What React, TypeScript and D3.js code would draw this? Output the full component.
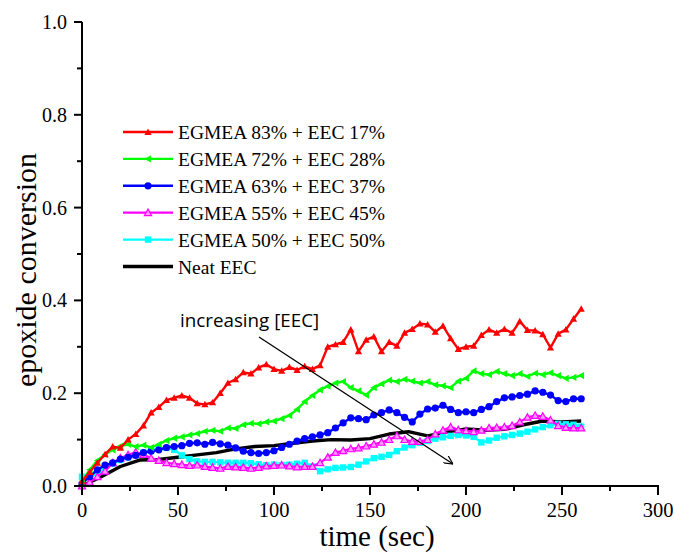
import React from "react";
import * as d3 from "d3";

const STEP = 4;
const red83 = [0.01,0.03,0.05,0.068,0.085,0.082,0.1,0.112,0.13,0.158,0.17,0.185,0.19,0.195,0.19,0.178,0.176,0.18,0.2,0.222,0.23,0.245,0.242,0.255,0.262,0.252,0.248,0.256,0.25,0.258,0.252,0.26,0.3,0.305,0.31,0.337,0.29,0.315,0.322,0.29,0.31,0.302,0.33,0.338,0.35,0.348,0.332,0.345,0.318,0.295,0.3,0.302,0.325,0.337,0.33,0.338,0.33,0.355,0.336,0.335,0.327,0.298,0.328,0.337,0.36,0.382];
const green72 = [0.01,0.035,0.055,0.068,0.078,0.086,0.09,0.085,0.088,0.083,0.09,0.098,0.103,0.106,0.11,0.113,0.118,0.12,0.118,0.125,0.124,0.132,0.135,0.134,0.138,0.14,0.145,0.152,0.165,0.182,0.195,0.207,0.215,0.222,0.225,0.212,0.205,0.196,0.212,0.22,0.228,0.225,0.23,0.226,0.222,0.225,0.218,0.216,0.212,0.226,0.232,0.248,0.242,0.24,0.247,0.242,0.238,0.242,0.236,0.243,0.24,0.244,0.238,0.232,0.234,0.238];
const blue63 = [0.005,0.02,0.035,0.045,0.05,0.058,0.062,0.066,0.072,0.075,0.078,0.083,0.085,0.087,0.092,0.093,0.09,0.094,0.091,0.088,0.082,0.075,0.072,0.07,0.072,0.076,0.083,0.09,0.097,0.102,0.106,0.11,0.115,0.125,0.136,0.147,0.145,0.143,0.153,0.158,0.164,0.158,0.148,0.138,0.155,0.166,0.168,0.174,0.165,0.158,0.16,0.158,0.165,0.171,0.182,0.19,0.192,0.195,0.198,0.205,0.202,0.196,0.184,0.182,0.188,0.188];
const magenta55 = [0.0,0.008,0.02,0.032,0.05,0.06,0.067,0.073,0.068,0.06,0.055,0.05,0.048,0.046,0.044,0.045,0.042,0.04,0.038,0.042,0.041,0.04,0.038,0.04,0.043,0.044,0.045,0.043,0.041,0.042,0.042,0.05,0.062,0.072,0.076,0.08,0.082,0.086,0.09,0.094,0.1,0.108,0.1,0.096,0.096,0.1,0.112,0.12,0.127,0.121,0.119,0.117,0.12,0.125,0.126,0.127,0.13,0.138,0.148,0.152,0.15,0.142,0.13,0.126,0.125,0.125];
const cyan50 = [0.02,0.018,0.028,0.038,0.048,0.056,0.062,0.067,0.072,0.077,0.08,0.082,0.078,0.066,0.058,0.053,0.052,0.052,0.051,0.05,0.05,0.05,0.049,0.047,0.045,0.046,0.045,0.046,0.048,0.05,0.042,0.032,0.036,0.039,0.04,0.041,0.046,0.053,0.06,0.063,0.067,0.075,0.083,0.088,0.093,0.097,0.102,0.105,0.108,0.11,0.109,0.106,0.094,0.098,0.104,0.107,0.11,0.113,0.117,0.122,0.127,0.131,0.134,0.133,0.132,0.128];
const NEAT_STEP = 10;
const neatEEC = [0.0,0.02,0.042,0.056,0.057,0.062,0.067,0.072,0.08,0.085,0.087,0.092,0.097,0.1,0.099,0.102,0.112,0.117,0.108,0.116,0.123,0.12,0.122,0.132,0.14,0.138,0.14];

const seriesNames = ["EGMEA 83% + EEC 17%","EGMEA 72% + EEC 28%","EGMEA 63% + EEC 37%","EGMEA 55% + EEC 45%","EGMEA 50% + EEC 50%","Neat EEC"];
const xTicks = [0,50,100,150,200,250,300];
const yTicks = [0.0,0.2,0.4,0.6,0.8,1.0];
const annotation = "increasing [EEC]";

const x = d3.scaleLinear().domain([0,300]).range([82,658]);
const y = d3.scaleLinear().domain([0,1]).range([486,22]);

type S = { name: string; vals: number[]; step: number; color: string; marker: string; width: number; fill?: string };
const series: S[] = [
  { name: seriesNames[0], vals: red83, step: STEP, color: "#ff0000", marker: "triUp", width: 2.4 },
  { name: seriesNames[1], vals: green72, step: STEP, color: "#00ff00", marker: "triLeft", width: 2.4 },
  { name: seriesNames[2], vals: blue63, step: STEP, color: "#0000ff", marker: "circle", width: 2.4 },
  { name: seriesNames[3], vals: magenta55, step: STEP, color: "#ff00ff", marker: "triOpen", width: 2.2, fill: "#ff99ff" },
  { name: seriesNames[4], vals: cyan50, step: STEP, color: "#00ffff", marker: "square", width: 2.4 },
  { name: seriesNames[5], vals: neatEEC, step: NEAT_STEP, color: "#000000", marker: "none", width: 3.4 },
];

function Marker({ kind, cx, cy, color, fill }: { kind: string; cx: number; cy: number; color: string; fill?: string }) {
  const s = 3.6;
  if (kind === "triUp") return <path d={`M${cx},${cy - s}L${cx + s},${cy + s * 0.8}L${cx - s},${cy + s * 0.8}Z`} fill={color} />;
  if (kind === "triLeft") return <path d={`M${cx - s},${cy}L${cx + s * 0.8},${cy - s}L${cx + s * 0.8},${cy + s}Z`} fill={color} />;
  if (kind === "circle") return <circle cx={cx} cy={cy} r={3.6} fill={color} />;
  if (kind === "triOpen") return <path d={`M${cx},${cy - s}L${cx + s},${cy + s * 0.8}L${cx - s},${cy + s * 0.8}Z`} fill={fill} stroke={color} strokeWidth={1.2} />;
  if (kind === "square") return <rect x={cx - 3.2} y={cy - 3.2} width={6.4} height={6.4} fill={color} />;
  return null;
}

const SERIF = '"Liberation Serif", "Times New Roman", Times, serif';
const SANS = '"Open Sans", Lato, sans-serif';

export default function App() {
  const line = d3.line<[number, number]>().x(d => x(d[0])).y(d => y(d[1]));
  const minorX = d3.range(0, 301, 25).filter(v => v % 50 !== 0);
  const minorY = d3.range(0.1, 1.0, 0.2);
  return (
    <svg width={674} height={552} style={{ position: "absolute", left: 0, top: 0, background: "#fff" }} fontFamily={SERIF}>
      <defs>
        <marker id="arrow" viewBox="0 0 10 10" refX="10" refY="5" markerWidth="9" markerHeight="9" orient="auto" markerUnits="userSpaceOnUse">
          <path d="M0,0L10,5L0,10" fill="none" stroke="#000" strokeWidth={1.3} />
        </marker>
      </defs>
      {series.slice().reverse().map((s, si) => {
        const pts: [number, number][] = s.vals.map((v, i) => [i * s.step, v]);
        return (
          <g key={si}>
            <path d={line(pts) || ""} fill="none" stroke={s.color} strokeWidth={s.width} strokeLinejoin="round" />
            {s.marker !== "none" && pts.map((p, i) => (
              <Marker key={i} kind={s.marker} cx={x(p[0])} cy={y(p[1])} color={s.color} fill={s.fill} />
            ))}
          </g>
        );
      })}
      <line x1={82} x2={82} y1={y(1)} y2={y(0) + 1} stroke="#000" strokeWidth={2} />
      <line x1={81} x2={x(300) + 1} y1={486} y2={486} stroke="#000" strokeWidth={2} />
      {yTicks.map(t => (
        <g key={t}>
          <line x1={74} x2={82} y1={y(t)} y2={y(t)} stroke="#000" strokeWidth={2} />
          <text x={67} y={y(t) + 7} textAnchor="end" fontSize={20}>{t.toFixed(1)}</text>
        </g>
      ))}
      {minorY.map(t => <line key={t} x1={77} x2={82} y1={y(t)} y2={y(t)} stroke="#000" strokeWidth={2} />)}
      {xTicks.map(t => (
        <g key={t}>
          <line x1={x(t)} x2={x(t)} y1={486} y2={495} stroke="#000" strokeWidth={2} />
          <text x={x(t)} y={517} textAnchor="middle" fontSize={20.5}>{t}</text>
        </g>
      ))}
      {minorX.map(t => <line key={t} x1={x(t)} x2={x(t)} y1={486} y2={491} stroke="#000" strokeWidth={2} />)}
      <text x={377} y={546} textAnchor="middle" fontSize={29}>time (sec)</text>
      <text transform="translate(36,270) rotate(-90)" textAnchor="middle" fontSize={30}>epoxide conversion</text>
      {series.map((s, i) => {
        const ly = 132 + i * 26.9;
        return (
          <g key={i}>
            <line x1={123} x2={173} y1={ly} y2={ly} stroke={s.color} strokeWidth={s.width} />
            <Marker kind={s.marker} cx={148} cy={ly} color={s.color} fill={s.fill} />
            <text x={178} y={ly + 7} fontSize={19.5}>{s.name}</text>
          </g>
        );
      })}
      <text x={180} y={327} fontFamily={SANS} fontSize={18.8}>{annotation}</text>
      <line x1={259} y1={337} x2={453} y2={464} stroke="#000" strokeWidth={1.3} markerEnd="url(#arrow)" />
    </svg>
  );
}
